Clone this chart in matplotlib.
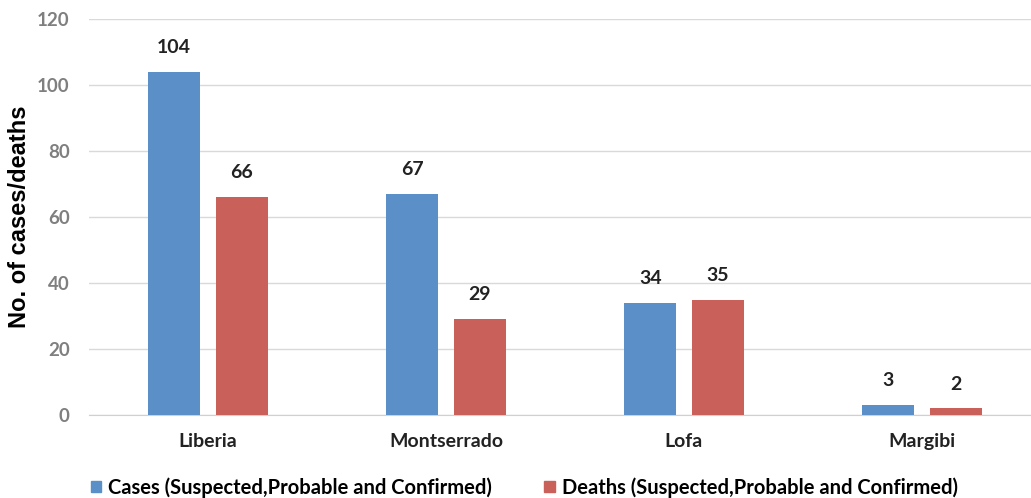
import matplotlib
matplotlib.use("Agg")
import matplotlib.pyplot as plt
import numpy as np
from matplotlib.patches import Patch

counties = ["Liberia", "Montserrado", "Lofa", "Margibi"]
cases = [104, 67, 34, 3]
deaths = [66, 29, 35, 2]
series_names = ["Cases (Suspected,Probable and Confirmed)",
                "Deaths (Suspected,Probable and Confirmed)"]
yticks = [0, 20, 40, 60, 80, 100, 120]

blue = "#5B8FC8"
red = "#C9605A"
label_font = ["Lato", "DejaVu Sans"]

fig = plt.figure(figsize=(10.31, 4.98), dpi=100)
ax = fig.add_axes([89 / 1031, 83 / 498, (1031 - 89) / 1031, 396 / 498])

x = np.arange(len(counties))
w = 0.22
off = 0.142
b1 = ax.bar(x - off, cases, w, color=blue, zorder=3)
b2 = ax.bar(x + off, deaths, w, color=red, zorder=3)

for bars, vals in ((b1, cases), (b2, deaths)):
    for rect, v in zip(bars, vals):
        ax.annotate(str(v), (rect.get_x() + rect.get_width() / 2, v),
                    xytext=(0, 17.5), textcoords="offset points",
                    ha="center", va="center", fontsize=14,
                    fontweight="bold", family=label_font, color="#222222")

ax.set_xlim(-0.5, 3.458)
ax.set_ylim(0, 120)
ax.set_yticks(yticks)
ax.set_yticklabels([str(t) for t in yticks], fontsize=13.5, fontweight="bold",
                   family=label_font, color="#7F7F7F")
ax.set_xticks(x)
ax.set_xticklabels(counties, fontsize=14, fontweight="bold",
                   family=label_font, color="#222222")
ax.tick_params(axis="y", length=0, pad=14)
ax.tick_params(axis="x", length=0, pad=13)
ax.grid(axis="y", color="#D9D9D9", linewidth=1, zorder=0)
for s in ("top", "right", "left"):
    ax.spines[s].set_visible(False)
ax.spines["bottom"].set_color("#D0D0D0")
ax.set_ylabel("No. of cases/deaths", fontsize=17, fontweight="bold",
              family=["Liberation Sans", "DejaVu Sans"])
ax.yaxis.set_label_coords(-0.0616, 0.5)

handles = [Patch(color=blue), Patch(color=red)]
fig.legend(handles, series_names, loc="center left",
           bbox_to_anchor=(73 / 1031, 10.5 / 498), ncol=2, frameon=False,
           handlelength=0.5, handleheight=0.5, handletextpad=0.35,
           columnspacing=2.6,
           prop={"family": label_font, "weight": "bold", "size": 14.5})

fig.savefig("out.png", dpi=100)
